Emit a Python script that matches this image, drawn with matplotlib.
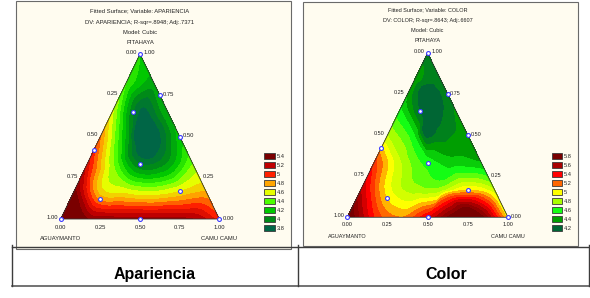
import numpy as np
import matplotlib
matplotlib.use("Agg")
import matplotlib.pyplot as plt
import matplotlib.tri as mtri
from matplotlib.colors import LinearSegmentedColormap, Normalize
from matplotlib.patches import Rectangle, Patch
from matplotlib import font_manager

# ---------------- data ----------------
component_names = ["AGUAYMANTO", "PITAHAYA", "CAMU CAMU"]
edge_ticks = [0.00, 0.25, 0.50, 0.75, 1.00]

design_aguaymanto = [0.00, 0.00, 0.00, 0.58, 0.22, 0.333, 0.167, 0.69, 0.50, 1.00, 0.00]
design_pitahaya   = [1.00, 0.75, 0.50, 0.42, 0.65, 0.333, 0.167, 0.12, 0.00, 0.00, 0.00]
design_camu       = [0.00, 0.25, 0.50, 0.00, 0.13, 0.333, 0.667, 0.19, 0.50, 0.00, 1.00]

# Surface read on a 1/6 grid: row k -> pitahaya = (6-k)/6, entries -> camu camu = 0/6, 1/6, ...
apariencia_grid = [
    [4.25],
    [4.35, 4.10],
    [4.55, 3.85, 4.15],
    [4.85, 4.10, 3.75, 4.20],
    [5.10, 4.45, 3.95, 4.05, 4.45],
    [5.40, 4.70, 4.60, 4.55, 4.65, 4.75],
    [5.60, 5.35, 5.30, 5.30, 5.30, 5.25, 5.00],
]
# extra readings (pitahaya, camu camu, value)
apariencia_extra_p = [0.58, 0.40, 0.50]
apariencia_extra_c = [0.25, 0.30, 0.22]
apariencia_extra_v = [3.75, 3.80, 3.80]

color_grid = [
    [4.30],
    [4.40, 4.30],
    [4.55, 4.15, 4.35],
    [4.85, 4.55, 4.30, 4.40],
    [5.30, 4.85, 4.60, 4.50, 4.45],
    [5.55, 5.00, 4.80, 4.80, 5.05, 4.85],
    [5.90, 5.35, 5.15, 5.45, 5.85, 5.80, 5.00],
]
color_extra_p = [0.78, 0.52, 0.10, 0.05, 0.13]
color_extra_c = [0.08, 0.22, 0.70, 0.72, 0.55]
color_extra_v = [4.20, 4.20, 5.50, 5.80, 5.15]

apariencia_legend_values = [5.4, 5.2, 5.0, 4.8, 4.6, 4.4, 4.2, 4.0, 3.8]
apariencia_legend_labels = ["5.4", "5.2", "5", "4.8", "4.6", "4.4", "4.2", "4", "3.8"]
apariencia_legend_colors = ["#7a0000", "#c00000", "#ff2000", "#ffa500", "#e6ff00",
                            "#4cff00", "#00c800", "#008a18", "#006646"]

color_legend_values = [5.8, 5.6, 5.4, 5.2, 5.0, 4.8, 4.6, 4.4, 4.2]
color_legend_labels = ["5.8", "5.6", "5.4", "5.2", "5", "4.8", "4.6", "4.4", "4.2"]
color_legend_colors = ["#780000", "#a80000", "#ff0000", "#ff6600", "#ffff00",
                       "#aaff00", "#14ff14", "#00a000", "#006634"]

titles_apariencia = ["Fitted Surface; Variable: APARIENCIA",
                     "DV: APARIENCIA; R-sqr=.8948; Adj:.7371",
                     "Model: Cubic"]
titles_color = ["Fitted Surface; Variable: COLOR",
                "DV: COLOR; R-sqr=.8643; Adj:.6607",
                "Model: Cubic"]
table_labels = ["Apariencia", "Color"]

# ---------------- helpers ----------------
W, H, DPI = 590, 298, 100
names = {f.name for f in font_manager.fontManager.ttflist}
if "Liberation Sans Narrow" in names:
    SMALL = ["Liberation Sans Narrow", "DejaVu Sans"]
    fscale = 1.0
else:
    SMALL = ["Liberation Sans", "DejaVu Sans"]
    fscale = 0.82
PT = 72.0 / DPI


def to_xy(p, c):
    p = np.asarray(p, float)
    c = np.asarray(c, float)
    return c + p / 2.0, p


def readings(grid, ep, ec, ev):
    n = len(grid) - 1
    P, C, V = [], [], []
    for k, row in enumerate(grid):
        for j, v in enumerate(row):
            P.append((n - k) / n)
            C.append(j / n)
            V.append(v)
    P = np.array(P + list(ep))
    C = np.array(C + list(ec))
    V = np.array(V + list(ev))
    return P, C, V


def draw_panel(fig, box, grid, extra, leg_vals, leg_labels, leg_cols, titles, fs, off):
    x0, ybase, w, h = box
    ax = fig.add_axes([x0 / W, (H - ybase) / H, w / W, h / H])
    ax.set_xlim(0, 1)
    ax.set_ylim(0, 1)
    ax.axis("off")
    ax.patch.set_visible(False)

    p, c, v = readings(grid, *extra)
    x, y = to_xy(p, c)
    tri = mtri.Triangulation(x, y)
    interp = mtri.CubicTriInterpolator(tri, v, kind="geom")
    refiner = mtri.UniformTriRefiner(tri)
    tri_f, z_f = refiner.refine_field(v, triinterpolator=interp, subdiv=4)

    vals = np.array(leg_vals[::-1])
    cols = leg_cols[::-1]
    vmin, vmax = vals.min(), vals.max()
    cmap = LinearSegmentedColormap.from_list(
        "c", list(zip((vals - vmin) / (vmax - vmin), cols)))
    step = 0.1
    levels = np.arange(vmin - 1.5 * step, vmax + 1.6 * step, step)
    for _ in range(2):
        ax.tricontourf(tri_f, z_f, levels=levels, cmap=cmap,
                       norm=Normalize(vmin, vmax), extend="both")

    tx, ty = to_xy([1, 0, 0, 1], [0, 0, 1, 0])
    ax.plot(tx, ty, color="#333333", lw=0.6, clip_on=False)

    dx, dy = to_xy(design_pitahaya, design_camu)
    ax.plot(dx, dy, "o", ms=2.8, mfc="white", mec="#3a3aff", mew=0.8,
            clip_on=False, zorder=5)

    def lab(text, xy, dxp, dyp, ha="center", va="center", size=fs):
        ax.annotate(text, xy=xy, xytext=(dxp * PT, -dyp * PT),
                    textcoords="offset points", ha=ha, va=va,
                    fontsize=size * fscale, family=SMALL,
                    color="#222222", annotation_clip=False)

    apex = to_xy(1, 0)
    bl = to_xy(0, 0)
    br = to_xy(0, 1)
    for t, d in zip(titles, off["titles"]):
        lab(t, apex, 0, -d)
    lab(component_names[1], apex, 0, -off["name_top"])
    lab(component_names[0], bl, 0, off["name_bot"])
    lab(component_names[2], br, 0, off["name_bot"])
    lab("0.00", apex, -off["apex_l"], -1.3, ha="right")
    lab("1.00", apex, off["apex_r"], -1.3, ha="left")
    for t in edge_ticks[1:]:
        lab(f"{t:.2f}", to_xy(1 - t, 0), -off["left"], -1.5, ha="right")
    for t in edge_ticks[:-1]:
        lab(f"{t:.2f}", to_xy(t, 1 - t), off["right"], -1.0, ha="left")
    for t in edge_ticks:
        lab(f"{t:.2f}", to_xy(0, t), 0, off["bottom"])

    handles = [Patch(facecolor=col, edgecolor="#3a3a3a", linewidth=0.6)
               for col in leg_cols]
    lx, ly = off["legend"]
    leg = fig.legend(handles, leg_labels, loc="upper left",
                     bbox_to_anchor=(lx / W, (H - ly) / H),
                     bbox_transform=fig.transFigure, frameon=False,
                     borderpad=0, borderaxespad=0, handlelength=1.85,
                     handleheight=1.2, handletextpad=0.35, labelspacing=0.55,
                     prop={"family": SMALL, "size": 5.0 * fscale})
    for t in leg.get_texts():
        t.set_color("#222222")
    return ax


fig = plt.figure(figsize=(W / DPI, H / DPI), dpi=DPI, facecolor="white")
bg = fig.add_axes([0, 0, 1, 1])
bg.set_xlim(0, W)
bg.set_ylim(H, 0)
bg.axis("off")

cream = "#fffcf0"
bg.add_patch(Rectangle((15.7, 0.5), 275.0, 248.8, facecolor=cream,
                       edgecolor="#6a6a6a", lw=0.8))
bg.add_patch(Rectangle((303.0, 1.7), 275.3, 244.3, facecolor=cream,
                       edgecolor="#6a6a6a", lw=0.8))
bg.plot([12.3, 589], [247, 247], color="#3c3c3c", lw=1.0)
bg.plot([12.3, 589], [286.3, 286.3], color="#5a5a5a", lw=1.2)
for xv in (12.3, 297.7, 589):
    bg.plot([xv, xv], [244.5, 286.3], color="#3c3c3c", lw=1.0)
bg.text(154.5, 274.5, table_labels[0], ha="center", va="center",
        fontsize=11.5, fontweight="bold", family=["Liberation Sans", "DejaVu Sans"])
bg.text(446.5, 274.5, table_labels[1], ha="center", va="center",
        fontsize=11.5, fontweight="bold", family=["Liberation Sans", "DejaVu Sans"])

off_left = dict(titles=[43.3, 31.3, 21.3], name_top=11.3, name_bot=20,
                apex_l=2.7, apex_r=3.3, left=2.5, right=3.0, bottom=8.3,
                legend=(264.3, 153.0))
off_right = dict(titles=[43.7, 32.3, 22.0], name_top=12.3, name_bot=18.7,
                 apex_l=3.0, apex_r=3.7, left=3.3, right=2.5, bottom=7.0,
                 legend=(551.7, 153.0))

draw_panel(fig, (60.7, 219.0, 158.6, 165.0), apariencia_grid,
           (apariencia_extra_p, apariencia_extra_c, apariencia_extra_v),
           apariencia_legend_values, apariencia_legend_labels,
           apariencia_legend_colors, titles_apariencia, 5.2, off_left)
draw_panel(fig, (347.3, 217.3, 160.7, 164.3), color_grid,
           (color_extra_p, color_extra_c, color_extra_v),
           color_legend_values, color_legend_labels,
           color_legend_colors, titles_color, 4.8, off_right)

fig.savefig("out.png", dpi=DPI, facecolor="white")
